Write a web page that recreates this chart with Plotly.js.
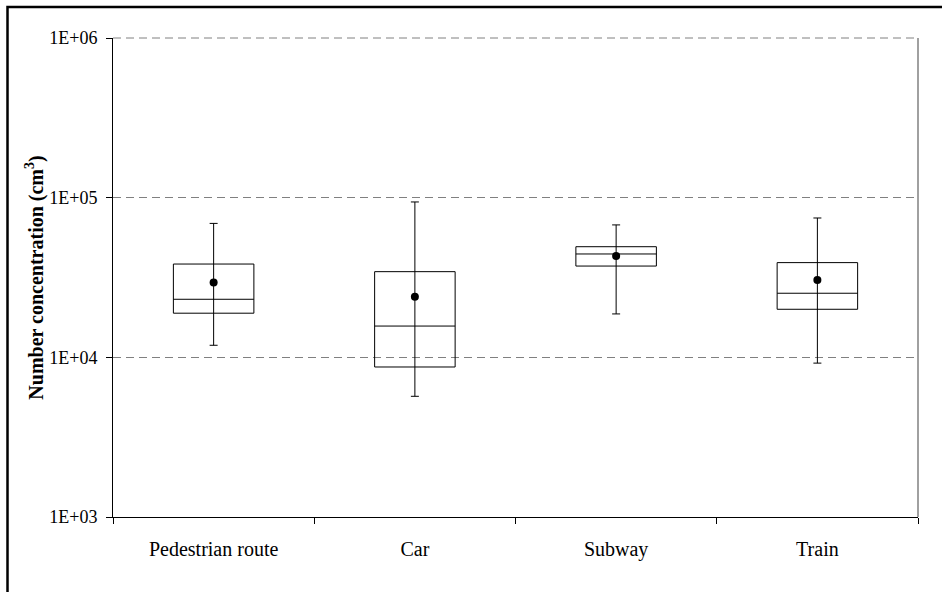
<!DOCTYPE html>
<html>
<head>
<meta charset="utf-8">
<script src="https://cdn.plot.ly/plotly-3.0.1.min.js"></script>
<style>
  html, body { margin: 0; padding: 0; background: #fff; }
  #chart { width: 942px; height: 592px; }
</style>
</head>
<body>
<div id="chart"></div>
<script>
// Category labels
const categories = ['Pedestrian route', 'Car', 'Subway', 'Train'];
// Box statistics (particles per cm3)
const q1Values     = [18900, 8700, 37300, 20000];
const medianValues = [23100, 15700, 44400, 25200];
const q3Values     = [38400, 34400, 49300, 39200];
const meanValues   = [29400, 24000, 43100, 30500];
const whiskerLow   = [11900, 5700, 18700, 9200];
const whiskerHigh  = [69000, 94000, 67500, 74600];
// Y tick labels
const yTickVals = [1e3, 1e4, 1e5, 1e6];
const yTickText = ['1E+03', '1E+04', '1E+05', '1E+06'];

const FONT = "'Liberation Serif', 'Times New Roman', serif";

const boxTrace = {
  type: 'box',
  x: categories,
  q1: q1Values,
  median: medianValues,
  q3: q3Values,
  lowerfence: q1Values,
  upperfence: q3Values,
  width: 0.4,
  fillcolor: 'rgba(255,255,255,0)',
  line: { color: '#000', width: 1 },
  whiskerwidth: 0,
  boxpoints: false,
  hoverinfo: 'skip',
  showlegend: false
};

const meanTrace = {
  type: 'scatter',
  mode: 'markers',
  x: categories,
  y: meanValues,
  marker: { color: '#000', size: 8, symbol: 'circle' },
  error_y: {
    type: 'data',
    symmetric: false,
    array: whiskerHigh.map((v, i) => v - meanValues[i]),
    arrayminus: meanValues.map((v, i) => v - whiskerLow[i]),
    color: '#000',
    thickness: 1,
    width: 4
  },
  showlegend: false,
  hoverinfo: 'skip'
};

const layout = {
  width: 942,
  height: 592,
  margin: { l: 113, r: 24, t: 38, b: 75 },
  paper_bgcolor: '#fff',
  plot_bgcolor: '#fff',
  font: { family: FONT, color: '#000' },
  showlegend: false,
  xaxis: {
    type: 'category',
    tickson: 'boundaries',
    ticks: 'outside',
    ticklen: 6,
    tickcolor: '#000',
    tickwidth: 1,
    showgrid: false,
    showline: true,
    linecolor: '#000',
    linewidth: 1,
    tickfont: { family: FONT, size: 20, color: '#000' },
    ticklabelstandoff: 14,
    range: [-0.5, 3.5],
    zeroline: false
  },
  yaxis: {
    type: 'log',
    range: [3, 6],
    tickvals: yTickVals,
    ticktext: yTickText,
    ticks: 'outside',
    ticklen: 6,
    tickcolor: '#000',
    tickwidth: 1,
    showline: true,
    linecolor: '#000',
    linewidth: 1,
    showgrid: true,
    gridcolor: '#808080',
    gridwidth: 1,
    griddash: '8px,5px',
    zeroline: false,
    tickfont: { family: FONT, size: 18, color: '#000' },
    ticklabelstandoff: 5,
    title: {
      text: 'Number concentration (cm<sup>3</sup>)',
      font: { family: FONT, size: 20, color: '#000', weight: 'bold' },
      standoff: 0
    }
  },
  shapes: [
    {
      type: 'line', xref: 'paper', yref: 'paper',
      x0: 0, x1: 1, y0: 1, y1: 1,
      line: { color: '#808080', width: 1, dash: '8px,5px' }
    },
    {
      type: 'line', xref: 'paper', yref: 'paper',
      x0: 1, x1: 1, y0: 0, y1: 1,
      line: { color: '#808080', width: 1.5 }
    },
    {
      type: 'rect', xref: 'paper', yref: 'paper',
      x0: (7.5 - 113) / 805, x1: 1.2,
      y0: -0.3, y1: 1 + (38 - 7) / 479,
      line: { color: '#000', width: 2.5 },
      fillcolor: 'rgba(0,0,0,0)'
    }
  ]
};

Plotly.newPlot('chart', [boxTrace, meanTrace], layout, { staticPlot: true, displayModeBar: false });
</script>
</body>
</html>
